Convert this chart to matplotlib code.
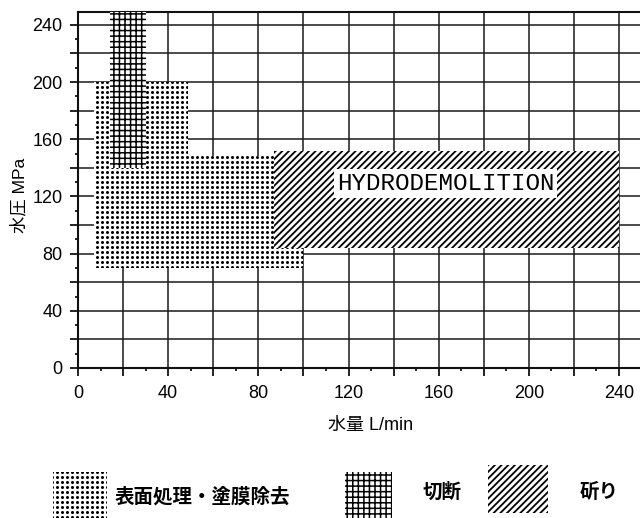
import numpy as np
import matplotlib
matplotlib.use('Agg')
import matplotlib.pyplot as plt
from matplotlib.patches import Polygon, Rectangle
from matplotlib.path import Path
import matplotlib.hatch as mhatch

# ---------------- data ----------------
x_major = list(range(0, 241, 20))
y_major = list(range(0, 241, 20))
x_labeled = [0, 40, 80, 120, 160, 200, 240]
y_labeled = [0, 40, 80, 120, 160, 200, 240]

# 表面処理・塗膜除去 (dotted) outline
surface_x = [7, 100, 100, 49, 49, 7]
surface_y = [70, 70, 148, 148, 200, 200]
# 切断 (cross hatch) rectangle
cutting_x = [14, 30]
cutting_y = [140, 250]
# 斫り (diagonal hatch) rectangle
chipping_x = [87, 240]
chipping_y = [84, 152]

region_label = 'HYDRODEMOLITION'
region_label_pos = (163, 129)
legend_labels = ['表面処理・塗膜除去', '切断', '斫り']
xlabel = '水量 L/min'
ylabel = '水圧 MPa'


# ---------------- square dot hatch ----------------
class SquareDots(mhatch.HatchPatternBase):
    def __init__(self, hatch, density):
        self.num_rows = hatch.count('.') * 5
        circ = Path.unit_circle()
        self._v = circ.vertices
        self._c = circ.codes
        self.num_vertices = (self.num_rows ** 2) * len(self._v) if self.num_rows else 0

    def set_vertices_and_codes(self, vertices, codes):
        off = 1.0 / self.num_rows
        sv = self._v * off * 0.16
        parts, cparts = [], []
        for r in range(self.num_rows):
            for c in range(self.num_rows):
                parts.append(sv + [(c + 0.5) * off, (r + 0.5) * off])
                cparts.append(self._c)
        np.concatenate(parts, out=vertices)
        np.concatenate(cparts, out=codes)


mhatch._hatch_types = [SquareDots if t is mhatch.SmallFilledCircles else t
                       for t in mhatch._hatch_types]

plt.rcParams['font.family'] = ['Liberation Sans', 'Noto Sans CJK JP', 'DejaVu Sans']
plt.rcParams['hatch.linewidth'] = 1.0
plt.rcParams['hatch.color'] = 'black'

W, H = 640, 518
fig = plt.figure(figsize=(W / 100, H / 100), dpi=100)
L, B, T = 78, 368, 12
ax = fig.add_axes([L / W, 1 - B / H, 1 - L / W, (B - T) / H])
ax.set_xlim(0, 249.3)
ax.set_ylim(0, 249)

ax.set_xticks(x_major)
ax.set_xticklabels([str(v) if v in x_labeled else '' for v in x_major])
ax.set_yticks(y_major)
ax.set_yticklabels([str(v) if v in y_labeled else '' for v in y_major])
ax.set_xticks(np.arange(10, 250, 20), minor=True)
ax.set_yticks(np.arange(10, 250, 20), minor=True)

ax.tick_params(axis='both', which='major', length=6, width=1.3, labelsize=13,
               color='#111111')
ax.tick_params(axis='x', which='major', pad=6)
ax.tick_params(axis='y', which='major', pad=5)
ax.tick_params(axis='both', which='minor', length=2.5, width=1.3, color='#111111')

ax.grid(True, which='major', color='#1a1a1a', lw=1.1)
ax.set_axisbelow(True)
for s in ['left', 'bottom', 'top']:
    ax.spines[s].set_linewidth(1.5)
    ax.spines[s].set_color('#111111')
ax.spines['right'].set_visible(False)


def hatch_patch(p, lw):
    if hasattr(p, 'set_hatch_linewidth'):
        p.set_hatch_linewidth(lw)
    return p


surface = Polygon(np.column_stack([surface_x, surface_y]), closed=True,
                  facecolor='white', edgecolor='black', lw=0, hatch='....', zorder=2)
ax.add_patch(hatch_patch(surface, 1.0))

cutting = Rectangle((cutting_x[0], cutting_y[0]), cutting_x[1] - cutting_x[0],
                    cutting_y[1] - cutting_y[0], facecolor='white',
                    edgecolor='black', lw=0, hatch='+++', zorder=3)
ax.add_patch(hatch_patch(cutting, 1.1))

chipping = Rectangle((chipping_x[0], chipping_y[0]), chipping_x[1] - chipping_x[0],
                     chipping_y[1] - chipping_y[0], facecolor='white',
                     edgecolor='black', lw=0, hatch='/////', zorder=3)
ax.add_patch(hatch_patch(chipping, 1.3))

ax.text(region_label_pos[0], region_label_pos[1], region_label,
        family='Liberation Mono', fontsize=17.5, ha='center', va='center',
        bbox=dict(fc='white', ec='none', pad=2), zorder=5)

ax.set_xlabel(xlabel, fontsize=13)
ax.xaxis.set_label_coords((371 - L) / (W - L), (B - 417) / (B - T))
ax.set_ylabel(ylabel, fontsize=12.5)
ax.yaxis.set_label_coords((27 - L) / (W - L), (B - 195) / (B - T))

# ---------------- legend ----------------
leg_patches = [
    ((53, 472, 107, 518), '....', 1.0),
    ((345, 472, 392, 518), '+++', 1.1),
    ((488, 465, 548, 513), '/////', 1.3),
]
for (x0, y0, x1, y1), hp, lw in leg_patches:
    r = Rectangle((x0 / W, 1 - y1 / H), (x1 - x0) / W, (y1 - y0) / H,
                  transform=fig.transFigure, facecolor='white',
                  edgecolor='black', lw=0, hatch=hp)
    fig.patches.append(hatch_patch(r, lw))

leg_text_pos = [(115, 497), (423, 492), (580, 492)]
for (tx, ty), lab in zip(leg_text_pos, legend_labels):
    fig.text(tx / W, 1 - ty / H, lab, ha='left', va='center', fontsize=14,
             fontweight='bold', family=['Noto Sans CJK JP', 'DejaVu Sans'])

fig.savefig('out.png', dpi=100)
